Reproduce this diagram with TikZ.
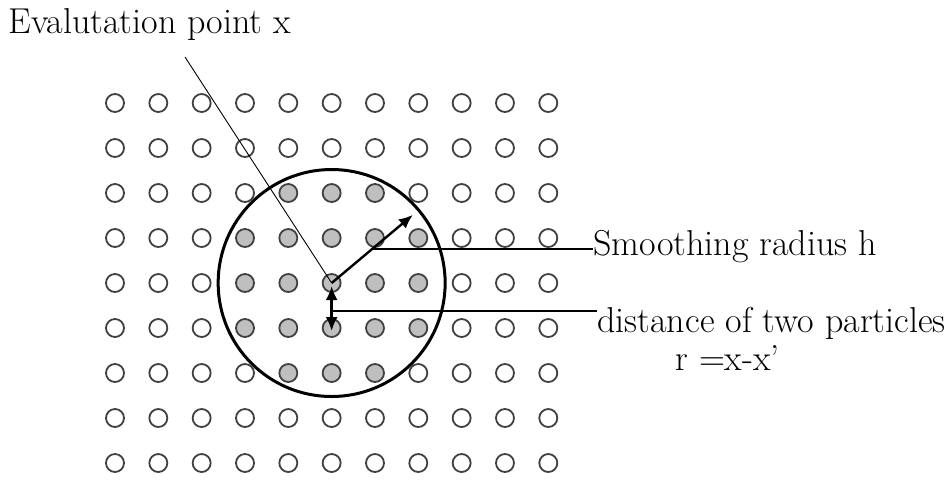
\documentclass[tikz,border=0pt]{standalone}
\usepackage{tikz}
\usetikzlibrary{arrows, arrows.meta, positioning, calc}

\begin{document}
\begin{tikzpicture}[x=0.5pt, y=0.5pt,
    particle/.style={circle, draw=black!75, line width=0.9pt, fill=white, minimum size=9pt, inner sep=0pt},
    neighbour/.style={particle, fill=black!25},
    support/.style={circle, draw=black, line width=1.5pt, minimum size=113.5pt, inner sep=0pt},
    vec/.style={draw=black, line width=1.2pt, -{Latex[length=7pt, width=6pt]}},
    lead/.style={draw=black, line width=0.65pt},
    thinlead/.style={draw=black, line width=0.45pt},
    lbl/.style={font=\fontsize{18}{19}\selectfont, inner sep=0pt}
]
    \useasboundingbox (0,0) rectangle (947,-479);

    % particles
    \foreach \i in {0,...,10}
      \foreach \j in {0,...,8} {
        \pgfmathtruncatemacro{\dd}{(\i-5)^2+(\j-4)^2}
        \ifnum\dd<6 \def\kind{neighbour}\else\def\kind{particle}\fi
        \node [\kind] (p-\i-\j) at ({115+43.33*\i},{-103-45*\j}) {};
      }

    % support domain
    \node [support] (kernel) at (p-5-4) {};

    % labels
    \node [lbl, anchor=base west] (evlabel) at (8,-33) {Evalutation point x};
    \node [lbl, anchor=base west] (hlabel) at (593,-255) {Smoothing radius h};
    \node [lbl, anchor=north west, align=left] (dlabel) at (597,-307)
        {distance of two particles\\\hspace*{39pt}r =x-x'};

    % arrows
    \coordinate (hend) at ($(p-5-4.center)+(40:106)$);
    \path [vec] (p-5-4.center) -- (hend);
    \path [vec, {Latex[length=7pt, width=6pt]}-{Latex[length=7pt, width=6pt]}]
        ($(p-5-4.center)+(0,-3)$) -- ($(p-5-5.center)+(0,-3)$);

    % leader lines
    \coordinate (hmid) at ($(p-5-4.center)!0.5!(hend)$);
    \coordinate (rmid) at ($(p-5-4.center)!0.62!(p-5-5.center)$);
    \coordinate (evfoot) at (185,-57);
    \path [lead] (hmid) -- (hmid -| hlabel.west);
    \path [lead] (rmid) -- (rmid -| dlabel.west);
    \path [thinlead] (evfoot) -- (p-5-4.center);
\end{tikzpicture}
\end{document}
